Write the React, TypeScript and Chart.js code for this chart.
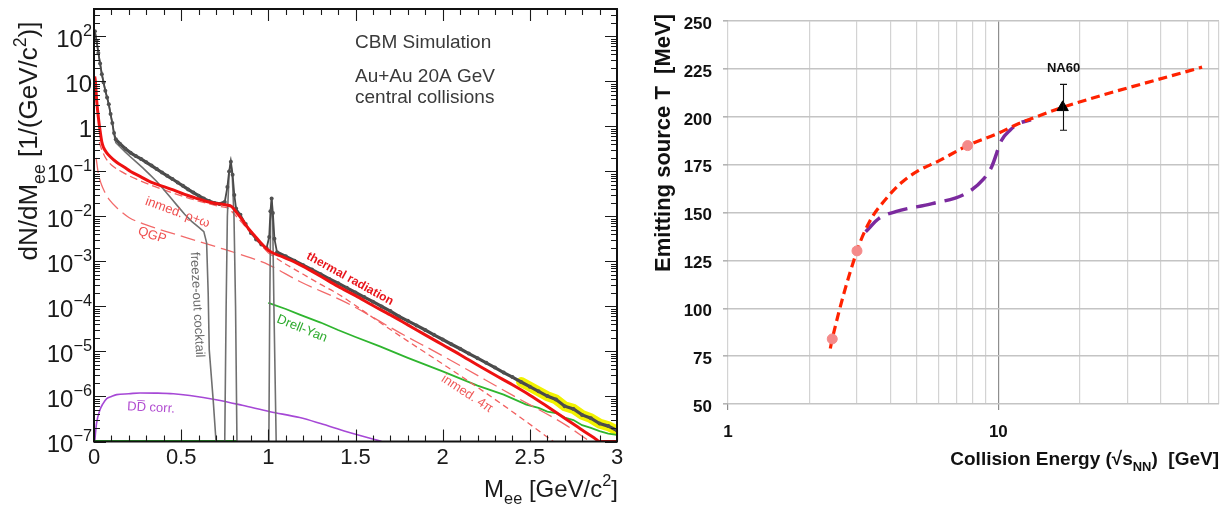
import React, { useEffect, useRef } from "react";
import { Chart, registerables } from "chart.js";

Chart.register(...registerables);

const SANS = "'Liberation Sans', Arial, Helvetica, sans-serif";

type Pair = [number, number];

/* ------------------------------------------------------------------ */
/* Dielectron invariant-mass spectrum, Au+Au 20A GeV (M [GeV/c²], dN/dM) */
/* ------------------------------------------------------------------ */

const totalSpectrum: Pair[] = [
  [0.005, 130], [0.015, 80], [0.025, 43], [0.035, 25], [0.045, 14.5], [0.055, 9.5],
  [0.065, 6.2], [0.075, 4.4], [0.085, 3.1], [0.095, 1.9], [0.105, 1.2], [0.115, 0.72],
  [0.125, 0.52], [0.15, 0.41], [0.18, 0.32], [0.21, 0.26], [0.24, 0.22], [0.27, 0.19],
  [0.3, 0.16], [0.33, 0.135], [0.36, 0.113], [0.39, 0.095], [0.42, 0.08], [0.45, 0.068],
  [0.48, 0.057], [0.51, 0.048], [0.54, 0.04], [0.57, 0.034], [0.6, 0.029], [0.63, 0.025],
  [0.66, 0.022], [0.69, 0.02], [0.72, 0.019], [0.75, 0.021], [0.765, 0.045], [0.775, 0.1],
  [0.785, 0.165], [0.795, 0.085], [0.805, 0.03], [0.815, 0.015], [0.84, 0.011], [0.87, 0.0068],
  [0.9, 0.0043], [0.93, 0.0031], [0.96, 0.0024], [0.99, 0.002], [1.005, 0.0035], [1.012, 0.013],
  [1.019, 0.025], [1.026, 0.012], [1.035, 0.0032], [1.05, 0.0016], [1.1, 0.0013], [1.15, 0.00104],
  [1.2, 0.00083], [1.25, 0.00066], [1.3, 0.00052], [1.35, 0.00041], [1.4, 0.00033], [1.45, 0.00026],
  [1.5, 0.000205], [1.55, 0.000162], [1.6, 0.000128], [1.65, 0.0001], [1.7, 0.000079], [1.75, 0.00006],
  [1.8, 0.000048], [1.85, 0.000038], [1.9, 0.00003], [1.95, 0.0000235], [2.0, 0.0000185], [2.05, 0.0000145],
  [2.1, 0.0000115], [2.15, 0.000009], [2.2, 0.0000071], [2.25, 0.0000056], [2.3, 0.0000044], [2.35, 0.0000034],
  [2.4, 0.0000027], [2.45, 0.0000021], [2.5, 0.00000165], [2.55, 0.0000013], [2.6, 0.00000102], [2.65, 8.6e-7],
  [2.7, 6.1e-7], [2.75, 5.3e-7], [2.8, 3.9e-7], [2.85, 3.3e-7], [2.9, 2.5e-7], [2.95, 2.2e-7], [3.0, 1.75e-7],
];

const thermalRadiation: Pair[] = [
  [0.004, 13], [0.008, 10], [0.015, 3.9], [0.025, 1.6], [0.034, 0.85], [0.045, 0.45], [0.055, 0.34],
  [0.07, 0.27], [0.092, 0.215], [0.13, 0.16], [0.17, 0.128], [0.21, 0.1], [0.264, 0.078], [0.33, 0.057],
  [0.4, 0.046], [0.455, 0.039], [0.52, 0.031], [0.58, 0.026], [0.646, 0.0216], [0.7, 0.0195],
  [0.76, 0.018], [0.79, 0.0166], [0.82, 0.012], [0.85, 0.0085], [0.876, 0.006], [0.92, 0.0038],
  [0.96, 0.0025], [1.01, 0.00166], [1.08, 0.00128], [1.163, 0.00092], [1.2, 0.00078], [1.3, 0.00047],
  [1.4, 0.00028], [1.5, 0.000174], [1.6, 0.000105], [1.7, 0.000065], [1.8, 0.000039], [1.9, 0.0000234],
  [2.0, 0.0000141], [2.1, 0.0000085], [2.2, 0.000005], [2.3, 0.000003], [2.4, 0.00000182], [2.5, 0.00000107],
  [2.6, 6e-7], [2.7, 3.3e-7], [2.8, 1.8e-7], [2.87, 1.2e-7], [2.9, 1e-7], [3.0, 1e-7],
];

const inmedRhoOmega: Pair[] = [
  [0.03, 0.45], [0.04, 0.34], [0.05, 0.27], [0.07, 0.19], [0.1, 0.14], [0.17, 0.093], [0.25, 0.066],
  [0.35, 0.046], [0.455, 0.033], [0.55, 0.025], [0.65, 0.0195], [0.72, 0.0168], [0.77, 0.0152],
  [0.8, 0.0118], [0.85, 0.0072], [0.9, 0.0042], [0.95, 0.0025], [1.0, 0.00155],
];

const inmed4Pi: Pair[] = [
  [1.0, 0.00155], [1.1, 0.00087], [1.2, 0.00052], [1.3, 0.00031], [1.4, 0.00019], [1.5, 0.000105],
  [1.62, 0.00005], [1.8, 0.000017], [2.0, 0.0000053], [2.2, 0.0000016], [2.4, 4.6e-7], [2.635, 1e-7],
];

const qgpRadiation: Pair[] = [
  [0.012, 0.2], [0.025, 0.09], [0.04, 0.055], [0.06, 0.036], [0.09, 0.023], [0.14, 0.0145], [0.2, 0.0095],
  [0.3, 0.0065], [0.45, 0.0042], [0.6, 0.0028], [0.74, 0.0019], [0.9, 0.0012], [1.0, 0.00085],
  [1.18, 0.00036], [1.45, 0.00012], [1.755, 0.000026], [2.0, 0.000008], [2.4, 1.07e-6], [2.7, 2.4e-7],
  [2.845, 1e-7],
];

const freezeOutCocktail: Pair[] = [
  [0.005, 130], [0.015, 80], [0.025, 43], [0.035, 25], [0.045, 14.5], [0.055, 9.5], [0.065, 6.2],
  [0.075, 4.4], [0.085, 3.1], [0.095, 1.9], [0.105, 1.15], [0.115, 0.66], [0.125, 0.44], [0.15, 0.35],
  [0.18, 0.27], [0.21, 0.21], [0.24, 0.165], [0.28, 0.12], [0.32, 0.085], [0.36, 0.06], [0.4, 0.04],
  [0.44, 0.026], [0.48, 0.017], [0.52, 0.0112], [0.56, 0.0078], [0.6, 0.0058], [0.63, 0.0046],
  [0.646, 0.0026], [0.655, 0.0002], [0.661, 0.000011], [0.684, 8e-7], [0.7, 1e-7], [0.75, 1e-7],
  [0.758, 0.0001], [0.765, 0.01], [0.775, 0.09], [0.784, 0.16], [0.793, 0.08], [0.803, 0.01],
  [0.812, 0.0001], [0.82, 1e-7], [1.003, 1e-7], [1.008, 0.0001], [1.013, 0.008], [1.019, 0.025],
  [1.025, 0.008], [1.032, 0.0001], [1.045, 1e-7],
];

const drellYanFloor: Pair[] = [[0, 1e-7], [0.82, 1e-7]];

const drellYan: Pair[] = [
  [1.0, 0.00012], [1.1, 0.000088], [1.18, 0.000066], [1.3, 0.000044], [1.4, 0.00003], [1.5, 0.000021],
  [1.64, 0.000013], [1.8, 0.0000072], [2.0, 0.0000036], [2.2, 0.00000175], [2.35, 0.0000011],
  [2.48, 6.6e-7], [2.55, 5.6e-7], [2.6, 4.6e-7], [2.65, 4.3e-7], [2.7, 3.4e-7], [2.75, 3.0e-7],
  [2.8, 2.3e-7], [2.85, 2.0e-7], [2.9, 1.7e-7], [2.95, 1.5e-7], [3.0, 1.4e-7],
];

const charmCorrelated: Pair[] = [
  [0.004, 1e-7], [0.015, 2.6e-7], [0.034, 5e-7], [0.05, 6.8e-7], [0.073, 9e-7], [0.1, 1e-6],
  [0.13, 1.1e-6], [0.2, 1.15e-6], [0.264, 1.2e-6], [0.35, 1.19e-6], [0.455, 1.15e-6], [0.55, 1.05e-6],
  [0.7, 8.5e-7], [0.85, 6.4e-7], [1.01, 4.6e-7], [1.18, 3.4e-7], [1.3, 2.5e-7], [1.45, 1.65e-7],
  [1.65, 1e-7],
];

// mass above which the total carries its shaded error band
const errorBandFrom = 2.45;

const massTickValues = [0, 0.5, 1, 1.5, 2, 2.5, 3];
const massTickLabels = ["0", "0.5", "1", "1.5", "2", "2.5", "3"];
const yieldDecades = [-7, -6, -5, -4, -3, -2, -1, 0, 1, 2];

const spectrumNotes = ["CBM Simulation", "Au+Au 20A GeV", "central collisions"];

// curve captions, anchored in data coordinates (mass, yield) with a tilt in degrees
const curveCaptions = [
  { text: "inmed. ρ+ω", m: 0.479, v: 0.0122, tilt: 20, color: "#ef4f4f", bold: false },
  { text: "QGP", m: 0.333, v: 0.0038, tilt: 18, color: "#ef4f4f", bold: false },
  { text: "freeze-out cocktail", m: 0.591, v: 1.09e-4, tilt: 87, color: "#6b6b6b", bold: false },
  { text: "thermal radiation", m: 1.468, v: 4.1e-4, tilt: 29, color: "#e8161c", bold: true },
  { text: "Drell-Yan", m: 1.193, v: 3.2e-5, tilt: 22, color: "#2daa2d", bold: false },
  { text: "inmed. 4π", m: 2.14, v: 1.15e-6, tilt: 33, color: "#ef5a5a", bold: false },
  { text: "DD\u0305 corr.", m: 0.327, v: 5.6e-7, tilt: 3, color: "#b04ad0", bold: false },
];

/* ------------------------------------------------------------------ */
/* Emitting-source temperature vs collision energy                     */
/* ------------------------------------------------------------------ */

const fireballTemperature: Pair[] = [
  [2.39, 79], [2.43, 84], [3.0, 130], [3.33, 145], [3.83, 157], [4.41, 166], [5.08, 172],
  [6.02, 177], [7.69, 185], [10, 191.5], [11.8, 196.3], [13.2, 199], [17.3, 205], [56.7, 226],
];

const transitionTemperature: Pair[] = [
  [3.23, 140], [3.62, 147], [4.17, 150.5], [5.69, 154.7], [7.54, 159.8], [8.81, 167.5],
  [9.45, 174], [10.28, 187.8], [11.04, 193], [11.8, 196.3], [13.2, 198.5],
];

const modelPoints: Pair[] = [[2.43, 84], [3.0, 130], [7.7, 185]];

const na60Label = "NA60";
const na60Energy = [17.3];
const na60Temperature = [205];
const na60Error = [12];

const energyGrid = [1, 2, 3, 4, 5, 6, 7, 8, 9, 10, 20, 30, 40, 50, 60];
const energyLabelled = [1, 10];
const energyMax = 65.5;

/* ------------------------------------------------------------------ */

type Run = { text: string; mode?: "sub" | "sup" };

function drawRich(
  ctx: CanvasRenderingContext2D,
  runs: Run[],
  x: number,
  y: number,
  o: { size: number; weight?: string; align: "left" | "center" | "right"; angle?: number; color: string; small?: number }
) {
  const weight = o.weight || "normal";
  const small = o.size * (o.small || 0.68);
  const fontFor = (r: Run) => `${weight} ${r.mode ? small : o.size}px ${SANS}`;
  let w = 0;
  for (const r of runs) {
    ctx.font = fontFor(r);
    w += ctx.measureText(r.text).width;
  }
  ctx.save();
  ctx.translate(x, y);
  if (o.angle) ctx.rotate(o.angle);
  ctx.fillStyle = o.color;
  ctx.textAlign = "left";
  ctx.textBaseline = "alphabetic";
  let cx = o.align === "left" ? 0 : o.align === "center" ? -w / 2 : -w;
  const base = o.size * 0.358;
  for (const r of runs) {
    ctx.font = fontFor(r);
    const dy = r.mode === "sub" ? o.size * 0.3 : r.mode === "sup" ? -o.size * 0.45 : 0;
    ctx.fillText(r.text, cx, base + dy);
    cx += ctx.measureText(r.text).width;
  }
  ctx.restore();
}

const pts = (s: Pair[]) => s.map(([x, y]) => ({ x, y }));

const spectrumDecor = {
  id: "spectrumDecor",
  afterDraw(chart: any) {
    const { ctx, chartArea: a } = chart;
    const xs = chart.scales.x;
    const ys = chart.scales.y;
    ctx.save();

    // inward ticks on all four sides
    ctx.strokeStyle = "#1a1a1a";
    ctx.lineWidth = 1.1;
    ctx.beginPath();
    for (let i = 0; i <= 30; i++) {
      const px = Math.round(xs.getPixelForValue(i / 10)) + 0.5;
      const len = i % 5 === 0 ? 12 : 6;
      ctx.moveTo(px, a.bottom);
      ctx.lineTo(px, a.bottom - len);
      ctx.moveTo(px, a.top);
      ctx.lineTo(px, a.top + len);
    }
    for (const d of yieldDecades) {
      for (let m = 1; m <= 9; m++) {
        const v = m * Math.pow(10, d);
        if (v > ys.max * 1.0001) continue;
        const py = Math.round(ys.getPixelForValue(v)) + 0.5;
        const len = m === 1 ? 12 : 6;
        ctx.moveTo(a.left, py);
        ctx.lineTo(a.left + len, py);
        ctx.moveTo(a.right, py);
        ctx.lineTo(a.right - len, py);
      }
    }
    ctx.stroke();

    // frame
    ctx.lineWidth = 2;
    ctx.strokeStyle = "#111";
    ctx.strokeRect(a.left, a.top, a.right - a.left, a.bottom - a.top);

    // tick labels
    ctx.fillStyle = "#1a1a1a";
    ctx.font = `22px ${SANS}`;
    ctx.textAlign = "center";
    ctx.textBaseline = "middle";
    massTickValues.forEach((v, i) => {
      ctx.fillText(massTickLabels[i], xs.getPixelForValue(v), a.bottom + 16);
    });
    for (const d of yieldDecades) {
      const runs: Run[] =
        d === 0 ? [{ text: "1" }] : d === 1 ? [{ text: "10" }] : [{ text: "10" }, { text: (d < 0 ? "−" : "") + Math.abs(d), mode: "sup" }];
      drawRich(ctx, runs, a.left - 2, ys.getPixelForValue(Math.pow(10, d)) + 2, { size: 24, align: "right", color: "#1a1a1a" });
    }

    // axis titles
    drawRich(
      ctx,
      [{ text: "dN/dM" }, { text: "ee", mode: "sub" }, { text: " [1/(GeV/c" }, { text: "2", mode: "sup" }, { text: ")]" }],
      28, 141,
      { size: 26, align: "center", angle: -Math.PI / 2, color: "#1a1a1a" }
    );
    drawRich(
      ctx,
      [{ text: "M" }, { text: "ee", mode: "sub" }, { text: " [GeV/c" }, { text: "2", mode: "sup" }, { text: "]" }],
      a.right + 1, 488,
      { size: 24, align: "right", color: "#1a1a1a" }
    );

    // simulation notes
    ctx.fillStyle = "#3a3a3a";
    ctx.font = `19px ${SANS}`;
    ctx.textAlign = "left";
    ctx.textBaseline = "middle";
    ctx.fillText(spectrumNotes[0], 355, 43);
    ctx.fillText(spectrumNotes[1], 355, 77);
    ctx.fillText(spectrumNotes[2], 355, 98);

    // curve captions
    for (const c of curveCaptions) {
      ctx.save();
      ctx.translate(xs.getPixelForValue(c.m), ys.getPixelForValue(c.v));
      ctx.rotate((c.tilt * Math.PI) / 180);
      ctx.font = `${c.bold ? "bold " : ""}${c.bold ? 12 : 13}px ${SANS}`;
      ctx.fillStyle = c.color;
      ctx.textAlign = "center";
      ctx.textBaseline = "middle";
      ctx.fillText(c.text, 0, 0);
      ctx.restore();
    }
    ctx.restore();
  },
};

function spectrumConfig(): any {
  const curve = (label: string, data: Pair[], color: string, width: number, dash: number[], order: number, extra: any = {}) => ({
    label,
    data: pts(data),
    borderColor: color,
    borderWidth: width,
    borderDash: dash,
    pointRadius: 0,
    fill: false,
    order,
    ...extra,
  });
  return {
    type: "line",
    data: {
      datasets: [
        curve("error band", totalSpectrum.filter(([m]) => m >= errorBandFrom), "#f2f200", 10, [], 10, { borderCapStyle: "round" }),
        curve("DD corr.", charmCorrelated, "#a648d6", 1.6, [], 9, { cubicInterpolationMode: "monotone" }),
        curve("Drell-Yan (below range)", drellYanFloor, "#2fb52f", 3, [], 8),
        curve("Drell-Yan", drellYan, "#2fb52f", 1.8, [], 8),
        curve("QGP", qgpRadiation, "#f26a6a", 1.3, [15, 6], 7, { cubicInterpolationMode: "monotone" }),
        curve("inmed. rho+omega", inmedRhoOmega, "#f26060", 1.3, [8, 4], 6, { cubicInterpolationMode: "monotone" }),
        curve("inmed. 4pi", inmed4Pi, "#f26060", 1.3, [6, 4], 6, { cubicInterpolationMode: "monotone" }),
        curve("freeze-out cocktail", freezeOutCocktail, "#707070", 1.6, [], 5),
        curve("total", totalSpectrum, "#4a4a4a", 1.8, [], 4, {
          pointRadius: 2,
          pointBackgroundColor: "#505050",
          pointBorderWidth: 0,
          segment: {
            borderWidth: (c: any) => {
              const m = c.p0.parsed.x;
              return (m >= 0.12 && m < 0.74) || m >= 1.05 ? 3.2 : 1.8;
            },
          },
        }),
        curve("thermal radiation", thermalRadiation, "#ee1111", 3, [], 1, { cubicInterpolationMode: "monotone" }),
      ],
    },
    options: {
      responsive: false,
      animation: false,
      devicePixelRatio: 1,
      layout: { padding: { left: 0, right: 23, top: 9, bottom: 0 } },
      plugins: { legend: { display: false }, tooltip: { enabled: false } },
      scales: {
        x: {
          type: "linear",
          min: 0,
          max: 3,
          grid: { display: false },
          border: { display: false },
          ticks: { display: false },
          afterFit: (s: any) => { s.height = 64.5; },
        },
        y: {
          type: "logarithmic",
          min: 1e-7,
          max: 408,
          grid: { display: false },
          border: { display: false },
          ticks: { display: false },
          afterFit: (s: any) => { s.width = 94; },
        },
      },
    },
    plugins: [spectrumDecor],
  };
}

const temperatureDecor = {
  id: "temperatureDecor",
  afterDatasetsDraw(chart: any) {
    const { ctx, chartArea: a } = chart;
    const xs = chart.scales.x;
    const ys = chart.scales.y;
    ctx.save();
    na60Energy.forEach((e, i) => {
      const px = Math.round(xs.getPixelForValue(e)) + 0.5;
      const top = ys.getPixelForValue(na60Temperature[i] + na60Error[i]);
      const bot = ys.getPixelForValue(na60Temperature[i] - na60Error[i]);
      ctx.strokeStyle = "#111";
      ctx.lineWidth = 1.1;
      ctx.beginPath();
      ctx.moveTo(px, top);
      ctx.lineTo(px, bot);
      ctx.moveTo(px - 3.5, top);
      ctx.lineTo(px + 3.5, top);
      ctx.moveTo(px - 3.5, bot);
      ctx.lineTo(px + 3.5, bot);
      ctx.stroke();
      ctx.font = `bold 13px ${SANS}`;
      ctx.fillStyle = "#111";
      ctx.textAlign = "center";
      ctx.textBaseline = "middle";
      ctx.fillText(na60Label, px, top - 16);
    });
    drawRich(ctx, [{ text: "Emitting source T  [MeV]" }], 22, 143, {
      size: 22, weight: "bold", align: "center", angle: -Math.PI / 2, color: "#111",
    });
    drawRich(
      ctx,
      [{ text: "Collision Energy (√s" }, { text: "NN", mode: "sub" }, { text: ")  [GeV]" }],
      a.right, 458,
      { size: 19, weight: "bold", align: "right", color: "#111" }
    );
    ctx.restore();
  },
};

function temperatureConfig(): any {
  return {
    type: "line",
    data: {
      datasets: [
        {
          label: na60Label,
          data: na60Energy.map((e, i) => ({ x: e, y: na60Temperature[i] })),
          showLine: false,
          pointStyle: "triangle",
          pointRadius: 6.5,
          pointBackgroundColor: "#000",
          pointBorderColor: "#000",
          order: 0,
        },
        {
          label: "model",
          data: pts(modelPoints),
          showLine: false,
          pointRadius: 5,
          pointBackgroundColor: "#f48a8a",
          pointBorderColor: "#f48a8a",
          order: 1,
        },
        {
          label: "fireball",
          data: pts(fireballTemperature),
          borderColor: "#ff2200",
          borderWidth: 3.2,
          borderDash: [9, 5],
          cubicInterpolationMode: "monotone",
          pointRadius: 0,
          order: 2,
        },
        {
          label: "transition",
          data: pts(transitionTemperature),
          borderColor: "#7b2a9e",
          borderWidth: 3.5,
          borderDash: [20, 9],
          cubicInterpolationMode: "monotone",
          pointRadius: 0,
          order: 3,
        },
      ],
    },
    options: {
      responsive: false,
      animation: false,
      devicePixelRatio: 1,
      layout: { padding: { left: 0, right: 9, top: 11, bottom: 0 } },
      plugins: { legend: { display: false }, tooltip: { enabled: false } },
      scales: {
        x: {
          type: "logarithmic",
          min: 1,
          max: energyMax,
          afterBuildTicks: (s: any) => {
            s.ticks = [...energyGrid, energyMax].map((v) => ({ value: v }));
          },
          afterFit: (s: any) => { s.height = 102; },
          border: { display: false },
          grid: {
            color: (c: any) => (c.tick && c.tick.value === 10 ? "#8e8e8e" : "#d3d3d3"),
            lineWidth: 1.2,
            tickLength: 6,
            tickColor: (c: any) => (c.tick && energyLabelled.includes(c.tick.value) ? "#8e8e8e" : "rgba(0,0,0,0)"),
          },
          ticks: {
            autoSkip: false,
            maxRotation: 0,
            padding: 12,
            color: "#111",
            font: { family: SANS, size: 17, weight: "bold" },
            callback: (v: any) => (energyLabelled.includes(Number(v)) ? String(v) : ""),
          },
        },
        y: {
          type: "linear",
          min: 50,
          max: 250,
          afterFit: (s: any) => { s.width = 88; },
          border: { display: false },
          grid: { color: "#c4c4c4", lineWidth: 1.6, tickLength: 5, tickColor: "#b4b4b4" },
          ticks: {
            stepSize: 25,
            padding: 11,
            labelOffset: 3,
            color: "#111",
            font: { family: SANS, size: 17, weight: "bold" },
          },
        },
      },
    },
    plugins: [temperatureDecor],
  };
}

export default function App() {
  const leftRef = useRef<HTMLCanvasElement>(null);
  const rightRef = useRef<HTMLCanvasElement>(null);

  useEffect(() => {
    document.body.style.margin = "0";
    const spectrum = new Chart(leftRef.current as HTMLCanvasElement, spectrumConfig());
    const temperature = new Chart(rightRef.current as HTMLCanvasElement, temperatureConfig());
    return () => {
      spectrum.destroy();
      temperature.destroy();
    };
  }, []);

  return (
    <div style={{ position: "relative", width: 1231, height: 506, background: "#fff", overflow: "hidden" }}>
      <canvas
        ref={leftRef}
        width={640}
        height={506}
        style={{ position: "absolute", left: 0, top: 0, width: 640, height: 506 }}
      />
      <canvas
        ref={rightRef}
        width={591}
        height={506}
        style={{ position: "absolute", left: 640, top: 0, width: 591, height: 506 }}
      />
    </div>
  );
}
